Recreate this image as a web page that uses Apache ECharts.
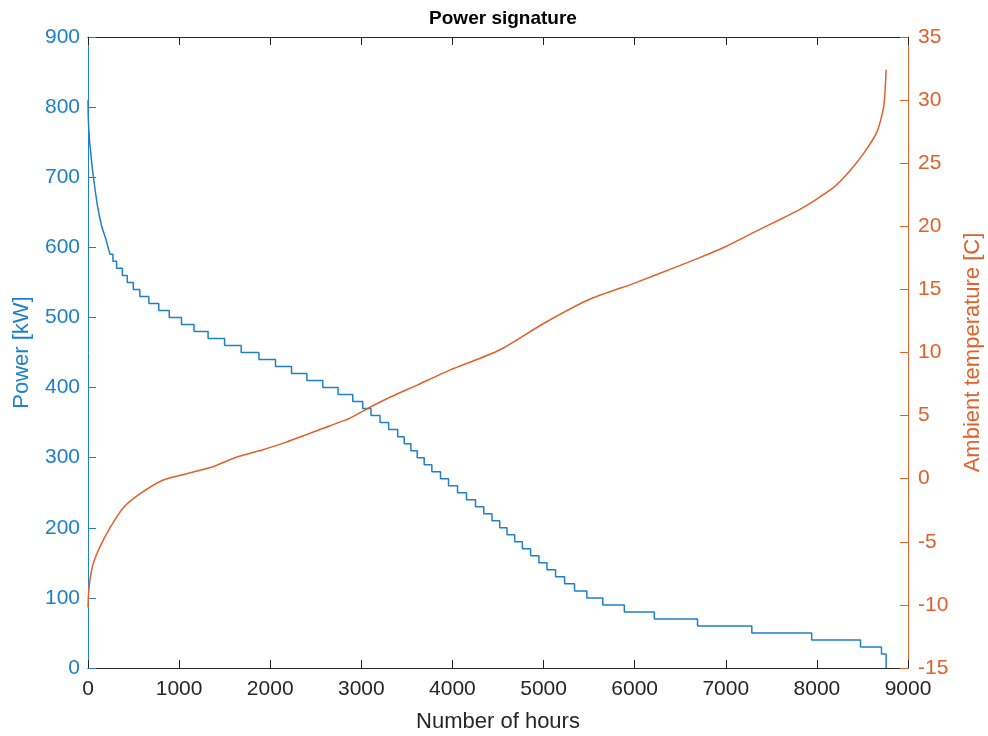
<!DOCTYPE html>
<html lang="en">
<head>
    <meta charset="UTF-8">
    <title>Power signature</title>
    <script src="https://cdn.jsdelivr.net/npm/echarts@6/dist/echarts.min.js"></script>
    <style>
        body { margin: 0; background: #fff; }
        #chart { width: 988px; height: 736px; }
    </style>
</head>
<body>
<div id="chart"></div>
<script>
// smooth top of the duration curve (hours, kW)
const headHours = [0, 2, 8, 18, 30, 45, 60, 80, 103, 125, 150, 175, 200, 220];
const headPower = [810, 790, 770, 750, 735, 715, 700, 680, 660, 645, 630, 620, 610, 600];

// stepped part: each level and the hour where it ends
const stepLevels = [600, 590, 580, 570, 560, 550, 540, 530, 520, 510, 500, 490, 480, 470, 460, 450, 440, 430, 420, 410,
    400, 390, 380, 370, 360, 350, 340, 330, 320, 310, 300, 290, 280, 270, 260, 250, 240, 230, 220, 210,
    200, 190, 180, 170, 160, 150, 140, 130, 120, 110, 100, 90, 80, 70, 60, 50, 40, 30, 20];
const stepEnds = [241, 274, 314, 377, 431, 497, 569, 668, 777, 892, 1026, 1164, 1318, 1499, 1681, 1876, 2058, 2234, 2402, 2577,
    2745, 2906, 3015, 3106, 3205, 3300, 3399, 3471, 3544, 3613, 3690, 3774, 3869, 3957, 4056, 4154, 4253, 4344, 4434, 4519,
    4599, 4683, 4767, 4858, 4949, 5037, 5132, 5231, 5340, 5475, 5650, 5887, 6216, 6690, 7286, 7943, 8479, 8709, 8760];

// ambient temperature duration curve
const tempHours = [0, 5, 22, 59, 131, 241, 387, 569, 826, 1081, 1373, 1628, 1920, 2176, 2657, 2876, 3095, 3314, 3607, 3971,
    4519, 5000, 5500, 6000, 6500, 6709, 7001, 7329, 7585, 7803, 7986, 8187, 8351, 8515, 8661, 8734, 8760];
const tempValues = [-10.2, -9.3, -8.0, -6.7, -5.4, -3.9, -2.3, -1.2, -0.1, 0.4, 0.95, 1.7, 2.3, 2.9, 4.2, 4.8, 5.66, 6.45, 7.4, 8.6,
    10.2, 12.3, 14.2, 15.5, 16.9, 17.5, 18.4, 19.6, 20.5, 21.3, 22.1, 23.1, 24.3, 25.8, 27.5, 29.5, 32.4];

const blue = '#1f80c8';
const orange = '#e0612b';
const dark = '#262626';
const font = 'Liberation Sans, Arial, sans-serif';

const powerData = headHours.map((h, i) => [h, headPower[i]]);
let prev = headHours[headHours.length - 1];
stepLevels.forEach((lvl, i) => {
    powerData.push([prev, lvl], [stepEnds[i], lvl]);
    prev = stepEnds[i];
});
powerData.push([prev, 0]);

const tempData = tempHours.map((h, i) => [h, tempValues[i]]);

const plain = v => String(v);

const chart = echarts.init(document.getElementById('chart'));
chart.setOption({
    animation: false,
    title: {
        text: 'Power signature',
        left: 498, top: 4, textAlign: 'center',
        textStyle: { fontFamily: font, fontSize: 19, fontWeight: 'bold', color: '#000' }
    },
    grid: { left: 88, right: 80, top: 37, bottom: 68, outerBoundsMode: 'none' },
    xAxis: [{
        type: 'value', min: 0, max: 9000, interval: 1000,
        name: 'Number of hours', nameLocation: 'middle', nameGap: 43,
        nameTextStyle: { fontFamily: font, fontSize: 22, color: dark },
        axisLine: { onZero: false, lineStyle: { color: dark, width: 1 } },
        axisTick: { inside: true, length: 8, lineStyle: { color: dark } },
        axisLabel: { fontFamily: font, fontSize: 21, color: dark, margin: 11, formatter: plain },
        splitLine: { show: false }
    }, {
        type: 'value', min: 0, max: 9000, interval: 1000, position: 'top',
        axisLine: { onZero: false, lineStyle: { color: dark, width: 1 } },
        axisTick: { inside: true, length: 8, lineStyle: { color: dark } },
        axisLabel: { show: false },
        splitLine: { show: false }
    }],
    yAxis: [{
        type: 'value', min: 0, max: 900, interval: 100, position: 'left',
        name: 'Power [kW]', nameLocation: 'middle', nameGap: 55,
        nameTextStyle: { fontFamily: font, fontSize: 22, color: blue },
        axisLine: { show: true, onZero: false, lineStyle: { color: blue, width: 1 } },
        axisTick: { show: true, inside: true, length: 8, lineStyle: { color: blue } },
        axisLabel: { fontFamily: font, fontSize: 21, color: blue, margin: 8, formatter: plain },
        splitLine: { show: false }
    }, {
        type: 'value', min: -15, max: 35, interval: 5, position: 'right',
        name: 'Ambient temperature [C]', nameLocation: 'middle', nameGap: 54, nameRotate: 90,
        nameTextStyle: { fontFamily: font, fontSize: 22, color: orange },
        axisLine: { show: true, onZero: false, lineStyle: { color: orange, width: 1 } },
        axisTick: { show: true, inside: true, length: 8, lineStyle: { color: orange } },
        axisLabel: { fontFamily: font, fontSize: 21, color: orange, margin: 10, formatter: plain },
        splitLine: { show: false }
    }],
    series: [{
        name: 'Power', type: 'line', xAxisIndex: 0, yAxisIndex: 0,
        data: powerData, showSymbol: false,
        lineStyle: { color: blue, width: 1.5 }
    }, {
        name: 'Temperature', type: 'line', xAxisIndex: 0, yAxisIndex: 1,
        data: tempData, showSymbol: false, smooth: 0.2,
        lineStyle: { color: orange, width: 1.5 }
    }]
});
</script>
</body>
</html>
